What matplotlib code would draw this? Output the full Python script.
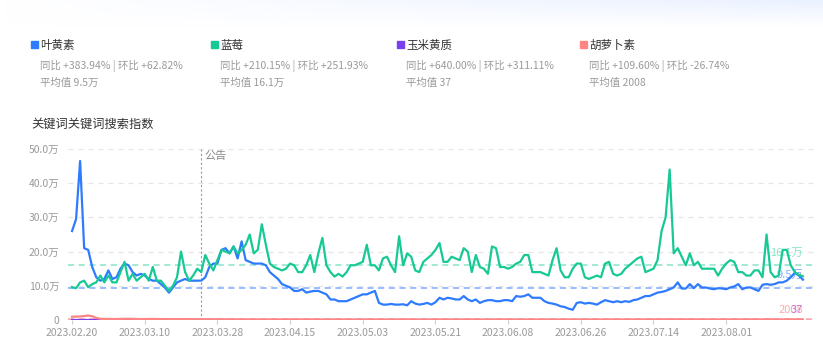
import numpy as np
import pandas as pd
import matplotlib
matplotlib.use("Agg")
import matplotlib.pyplot as plt
import matplotlib.dates as mdates

plt.rcParams['font.family'] = ['Noto Sans CJK SC', 'DejaVu Sans']

# ---- data (daily search index, 2023.02.20 - 2023.08.20) ----
start_date = "2023-02-20"
n_days = 182
announce_date = "2023-03-24"
tick_step = 18
n_ticks = 10

names = ["叶黄素", "蓝莓", "玉米黄质", "胡萝卜素"]
yoy_mom = ["同比 +383.94% | 环比 +62.82%", "同比 +210.15% | 环比 +251.93%",
           "同比 +640.00% | 环比 +311.11%", "同比 +109.60% | 环比 -26.74%"]
avg_text = ["平均值 9.5万", "平均值 16.1万", "平均值 37", "平均值 2008"]
avg_values = [95000, 161000, 37, 2008]
avg_labels = ["9.5万", "16.1万", "37", "2008"]

# values in 万 (10k)
lutein = [
    26.0, 29.5, 46.5, 21.0, 20.5, 15.5, 12.5, 11.5, 12.0, 14.5,
    12.0, 12.5, 15.0, 16.5, 16.0, 14.0, 13.0, 13.5, 13.0, 12.0,
    11.5, 11.5, 10.5, 9.5, 8.0, 9.5, 11.0, 11.5, 12.0, 11.5,
    11.5, 11.5, 11.5, 12.5, 15.5, 16.5, 16.5, 20.5, 21.0, 19.5,
    21.5, 18.0, 23.0, 17.5, 17.0, 16.5, 16.5, 16.5, 16.0, 14.0,
    13.0, 12.0, 10.5, 10.0, 9.5, 8.5, 8.5, 9.0, 8.0, 8.3,
    8.5, 8.5, 8.0, 7.5, 6.0, 6.0, 5.5, 5.5, 5.5, 6.0,
    6.5, 7.0, 7.5, 7.5, 8.0, 8.5, 5.0, 4.5, 4.5, 4.7,
    4.5, 4.5, 4.6, 4.3, 5.5, 4.8, 4.5, 4.7, 5.0, 4.5,
    5.2, 6.5, 6.0, 6.5, 6.3, 6.0, 6.0, 7.0, 6.0, 5.5,
    6.0, 5.0, 5.5, 5.8, 5.8, 5.5, 5.5, 5.8, 5.8, 5.5,
    7.0, 6.8, 7.0, 7.5, 6.5, 6.5, 6.5, 5.5, 5.0, 4.8,
    4.5, 4.0, 3.8, 3.3, 3.0, 5.0, 5.2, 4.8, 5.0, 4.8,
    4.5, 5.2, 5.8, 5.5, 5.2, 5.5, 5.2, 5.5, 5.3, 5.8,
    6.0, 6.5, 7.0, 7.0, 7.5, 8.0, 8.2, 8.5, 9.0, 9.5,
    11.0, 9.2, 9.2, 10.5, 9.3, 10.5, 9.5, 9.5, 9.2, 9.0,
    9.3, 9.2, 9.0, 9.5, 9.8, 10.5, 9.0, 9.5, 9.5, 9.0,
    8.5, 10.3, 10.5, 10.3, 10.5, 11.0, 11.0, 11.5, 12.5, 13.8,
    13.0, 11.8,
]
blueberry = [
    9.6, 9.3, 11.0, 11.5, 9.6, 10.5, 11.0, 13.0, 11.0, 13.0,
    11.0, 11.0, 14.0, 17.0, 11.5, 13.5, 11.5, 12.5, 13.5, 11.5,
    15.5, 11.5, 11.5, 10.0, 8.5, 10.0, 12.5, 20.0, 14.0, 11.5,
    13.0, 15.0, 14.0, 19.0, 16.5, 14.5, 17.5, 20.5, 20.0, 19.5,
    21.5, 19.5, 20.5, 22.0, 25.0, 19.5, 20.5, 28.0, 22.0, 16.5,
    15.5, 15.0, 14.5, 15.0, 16.5, 16.0, 14.0, 14.0, 16.0, 19.0,
    14.0, 19.5, 24.0, 16.0, 14.0, 12.7, 13.5, 12.7, 14.0, 16.0,
    16.0, 16.5, 17.0, 22.0, 16.0, 16.0, 14.5, 18.0, 18.5, 16.0,
    14.0, 24.5, 16.0, 19.5, 18.5, 14.5, 14.0, 17.0, 18.0, 19.0,
    20.5, 22.5, 17.0, 17.0, 18.5, 18.0, 17.5, 21.0, 20.0, 14.0,
    19.0, 15.5, 15.0, 13.5, 21.5, 21.0, 15.5, 15.5, 15.0, 15.5,
    16.5, 17.0, 19.0, 19.0, 14.0, 14.0, 14.0, 13.5, 13.0, 17.5,
    21.0, 14.5, 12.5, 12.5, 15.0, 16.5, 16.5, 12.5, 12.0, 12.5,
    13.0, 12.5, 16.5, 17.0, 13.5, 13.0, 13.5, 15.0, 16.0, 17.0,
    18.0, 18.5, 14.0, 14.5, 15.0, 17.5, 26.0, 30.0, 44.0, 19.5,
    21.0, 18.5, 16.0, 19.5, 16.0, 17.0, 15.0, 15.0, 15.0, 15.0,
    13.0, 15.0, 16.5, 17.5, 17.0, 14.0, 14.0, 13.0, 13.0, 14.5,
    14.5, 12.5, 25.0, 14.0, 12.5, 13.0, 20.5, 20.5, 16.0, 14.0,
    13.2, 12.8,
]
# raw values
zeaxanthin = [
    40, 35, 52, 60, 45, 38, 30, 42, 36, 50,
    44, 33, 28, 41, 47, 39, 35, 30, 26, 38,
    42, 36, 31, 45, 50, 34, 29, 37, 40, 33,
    35, 41, 38, 30, 27, 44, 39, 36, 32, 30,
    28, 35, 42, 37, 33, 31, 29, 38, 40, 34,
    30, 27, 33, 36, 39, 31, 28, 35, 32, 30,
    26, 34, 37, 41, 33, 29, 31, 36, 38, 32,
    30, 28, 35, 40, 37, 33, 29, 31, 34, 36,
    38, 32, 30, 27, 35, 39, 41, 36, 33, 30,
    29, 34, 37, 40, 35, 31, 28, 33, 36, 38,
    34, 30, 27, 32, 35, 39, 42, 37, 33, 31,
    29, 34, 38, 41, 36, 32, 30, 35, 39, 37,
    33, 30, 28, 34, 36, 40, 43, 38, 35, 32,
    30, 36, 39, 42, 37, 34, 31, 38, 41, 44,
    48, 52, 46, 41, 38, 35, 40, 43, 39, 36,
    34, 38, 41, 44, 40, 37, 35, 39, 42, 45,
    41, 38, 36, 40, 43, 46, 42, 39, 37, 41,
    44, 47, 50, 45, 42, 48, 52, 55, 50, 46,
    60, 74,
]
carotene = [
    9500, 10000, 10500, 11500, 13000, 11000, 6000, 3500, 3000, 3200,
    2800, 3000, 3500, 3200, 3600, 3400, 3000, 2600, 2800, 3000,
    3200, 2900, 2700, 2500, 2400, 2600, 2500, 2300, 2200, 2400,
    2300, 2100, 2000, 2200, 2000, 1900, 2100, 2000, 1800, 1900,
    1800, 1700, 1900, 1800, 1600, 1700, 1800, 1600, 1500, 1700,
    1600, 1500, 1400, 1600, 1700, 1500, 1400, 1500, 1600, 1400,
    1500, 1300, 1400, 1600, 1500, 1400, 1300, 1500, 1400, 1300,
    1400, 1500, 1600, 1400, 1300, 1500, 1400, 1300, 1400, 1500,
    1300, 1400, 1600, 1500, 1300, 1400, 1500, 1400, 1300, 1500,
    1400, 1500, 1600, 1400, 1300, 1400, 1500, 1600, 1400, 1300,
    1500, 1400, 1300, 1500, 1600, 1500, 1400, 1300, 1400, 1500,
    1600, 1500, 1400, 1300, 1500, 1400, 1300, 1400, 1500, 1600,
    1500, 1400, 1300, 1200, 1400, 1500, 1600, 1400, 1300, 1500,
    1400, 1300, 1500, 1600, 1500, 1400, 1300, 1400, 1500, 1600,
    1700, 1600, 1500, 1600, 1700, 1800, 1900, 2100, 2400, 1900,
    1800, 1700, 1600, 1700, 1600, 1500, 1600, 1700, 1600, 1500,
    1400, 1500, 1600, 1500, 1400, 1500, 1600, 1700, 1600, 1500,
    1400, 1500, 2000, 1700, 1600, 1500, 1800, 1900, 1700, 1600,
    1500, 1470,
]

colors = ["#2f7bff", "#17c994", "#7b3ff2", "#ff8585"]
avg_colors = ["#7faaff", "#88e3c6", "#b497f7", "#ffaaaa"]

dates = pd.date_range(start_date, periods=n_days, freq="D")
series = [np.array(lutein) * 1e4, np.array(blueberry) * 1e4,
          np.array(zeaxanthin, dtype=float), np.array(carotene, dtype=float)]

W, H = 823, 360
fig = plt.figure(figsize=(W / 100, H / 100), dpi=100)
fig.patch.set_facecolor("white")

def fx(px):
    return px / W

def fy(py):
    return 1 - py / H

# faint blue wash at the top
bg = fig.add_axes([0, fy(28), 1, 28 / H], zorder=-5)
grad = np.linspace(0, 1, 256)[None, :] * np.linspace(1, 0, 20)[:, None]
bg.imshow(grad, aspect="auto", cmap=matplotlib.colors.LinearSegmentedColormap.from_list(
    "w", ["#ffffff", "#eaf1ff"]), extent=[0, 1, 0, 1])
bg.axis("off")

# header legend blocks
head_x = [31, 211, 397, 580]
for i in range(4):
    x0 = head_x[i]
    fig.patches.append(plt.Rectangle((fx(x0), fy(48)), 7 / W, 7 / H, transform=fig.transFigure,
                                     color=colors[i], figure=fig))
    fig.text(fx(x0 + 9), fy(45), names[i], fontsize=8.3, color="#333333", va="center")
    fig.text(fx(x0 + 9), fy(66), yoy_mom[i], fontsize=7.5, color="#9a9a9a", va="center")
    fig.text(fx(x0 + 9), fy(83), avg_text[i], fontsize=7.5, color="#9a9a9a", va="center")

fig.text(fx(31), fy(124), "关键词关键词搜索指数", fontsize=8.8, color="#333333", va="center")

# main axes: x 68..815 px, y 149..320 px
ax = fig.add_axes([fx(68), fy(320), (815 - 68) / W, (320 - 149) / H])
ax.set_facecolor("none")
ax.set_ylim(0, 500000)
ax.set_xlim(dates[0] - pd.Timedelta(days=1), dates[0] + pd.Timedelta(days=184))

for v in range(100000, 500001, 100000):
    ax.axhline(v, color="#e6e6e6", lw=0.9, ls=(0, (4, 4)), zorder=0)

for i in range(4):
    ax.axhline(avg_values[i], color=avg_colors[i], lw=1.1, ls=(0, (4, 3)), zorder=1)

label_offset = [9, 9, 7, 7]
for i in [0, 1, 3, 2]:
    ax.annotate(avg_labels[i], xy=(dates[-1], avg_values[i]), xytext=(0, label_offset[i]),
                textcoords="offset points", ha="right", va="center", fontsize=8,
                color=avg_colors[i] if i != 2 else "#c77ae0", zorder=1)

for i in [3, 2, 1, 0]:
    ax.plot(dates, series[i], color=colors[i], lw=1.6, zorder=3 + i * 0.1)

ann = pd.Timestamp(announce_date)
ax.axvline(ann, color="#9a9a9a", lw=0.8, ls=(0, (2, 2)), zorder=2)
ax.text(ann + pd.Timedelta(days=0.7), 480000, "公告", fontsize=8, color="#888888", va="center")

ax.set_yticks(range(0, 500001, 100000))
ax.set_yticklabels(["0"] + [f"{v:.1f}万" for v in range(10, 51, 10)])
ax.set_xticks(dates[::tick_step][:n_ticks])
ax.xaxis.set_major_formatter(mdates.DateFormatter("%Y.%m.%d"))
ax.tick_params(axis="y", length=0, labelsize=7.5, labelcolor="#9a9a9a", pad=6)
ax.tick_params(axis="x", length=3, color="#cccccc", labelsize=7.5, labelcolor="#9a9a9a", pad=3)
for s in ax.spines.values():
    s.set_visible(False)

fig.savefig("out.png", dpi=100)
